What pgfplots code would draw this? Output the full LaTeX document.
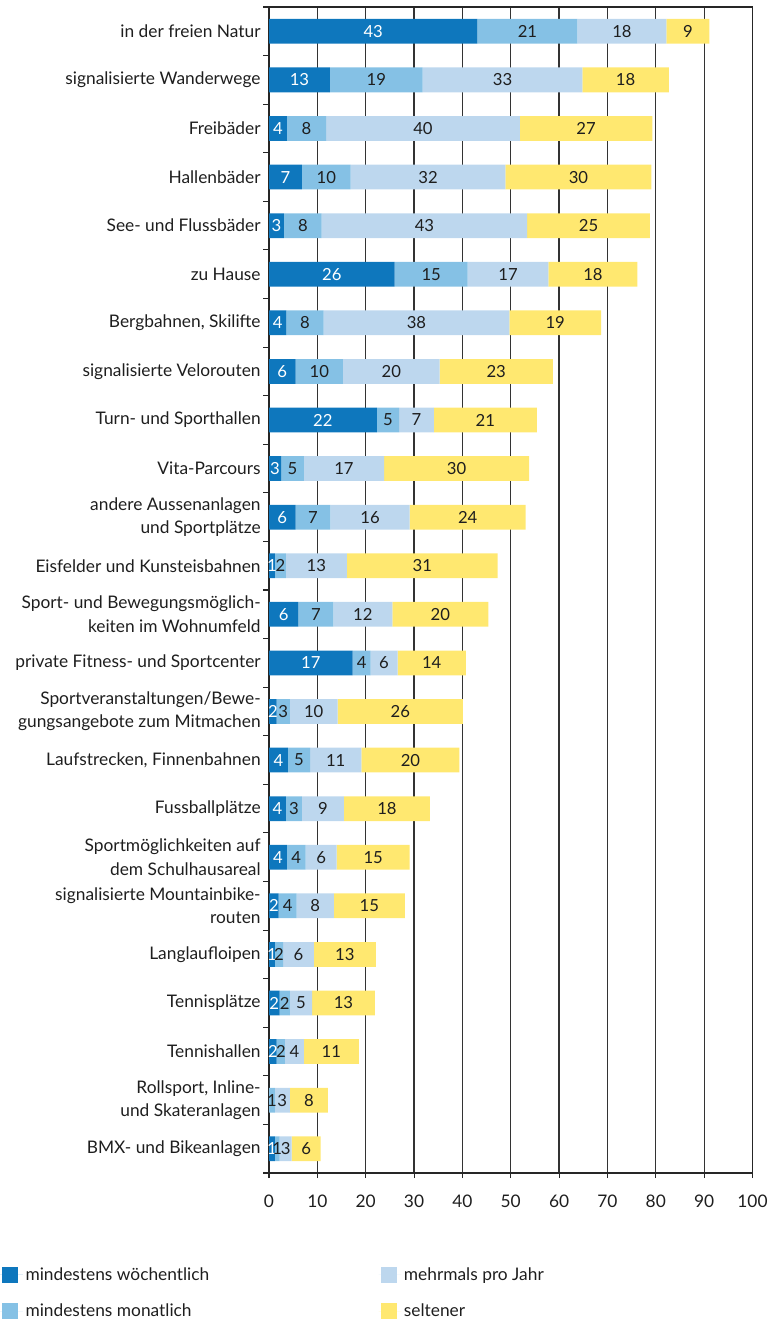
\documentclass[border=0pt]{standalone}
\usepackage{pgfplots}
\pgfplotsset{compat=1.18}
\usepackage{pgfplotstable}
\usepackage{fontspec}
\setmainfont{Lato}
\definecolor{cW}{HTML}{0E77BD}
\definecolor{cM}{HTML}{85C1E5}
\definecolor{cY}{HTML}{BDD7EE}
\definecolor{cS}{HTML}{FFE870}
\definecolor{txt}{HTML}{1E1E1E}

% i: category index; W,M,Y,S: shares (%); lW..lS: printed labels
\pgfplotstableread{
i  W    M    Y    S    lW lM lY lS
0  43.1 20.7 18.4 8.9  43 21 18 9
1  12.6 19.2 33.0 17.9 13 19 33 18
2  3.7  8.1  40.1 27.4 4  8  40 27
3  6.8  10.1 32.0 30.2 7  10 32 30
4  3.1  7.8  42.5 25.4 3  8  43 25
5  26.0 15.1 16.7 18.4 26 15 17 18
6  3.6  7.7  38.4 19.0 4  8  38 19
7  5.5  9.8  20.0 23.4 6  10 20 23
8  22.3 4.6  7.2  21.3 22 5  7  21
9  2.5  4.7  16.6 30.0 3  5  17 30
10 5.5  7.2  16.4 24.0 6  7  16 24
11 1.2  2.3  12.6 31.2 1  2  13 31
12 6.1  7.2  12.2 19.9 6  7  12 20
13 17.3 3.7  5.6  14.1 17 4  6  14
14 1.6  2.7  9.9  25.9 2  3  10 26
15 3.9  4.6  10.6 20.3 4  5  11 20
16 3.5  3.3  8.7  17.8 4  3  9  18
17 3.7  3.9  6.4  15.1 4  4  6  15
18 2.0  3.7  7.7  14.7 2  4  8  15
19 1.2  1.7  6.4  12.8 1  2  6  13
20 2.2  2.1  4.6  13.0 2  2  5  13
21 1.6  1.7  3.9  11.4 2  2  4  11
22 0    1.2  3.1  7.9  0  1  3  8
23 1.2  1.0  2.5  6.0  1  1  3  6
}\data

\pgfplotsset{
  /pgf/number format/assume math mode=true,
  common/.style={
    at={(201.75pt,-5.25pt)}, anchor=north west,
    scale only axis,
    width=362.6pt, height=874.5pt,
    font=\fontsize{13}{17.5}\selectfont,
    xmin=0, xmax=100,
    ymin=-0.5, ymax=23.5,
    y dir=reverse,
  },
}

\begin{document}
\begin{tikzpicture}
\useasboundingbox (0,0) rectangle (582pt,-989.25pt);
\begin{axis}[
  common,
  xbar stacked,
  bar width=0.51,
  xtick={0,10,...,100},
  ytick={0,...,23},
  minor ytick={-0.5,0.5,...,23.5},
  yticklabels={
    in der freien Natur,
    signalisierte Wanderwege,
    Freibäder,
    Hallenbäder,
    See- und Flussbäder,
    zu Hause,
    {Bergbahnen, Skilifte},
    signalisierte Velorouten,
    Turn- und Sporthallen,
    Vita-Parcours,
    {andere Aussenanlagen\\und Sportplätze},
    Eisfelder und Kunsteisbahnen,
    {Sport- und Bewegungsmöglich-\\keiten im Wohnumfeld},
    private Fitness- und Sportcenter,
    {Sportveranstaltungen/Bewe-\\gungsangebote zum Mitmachen},
    {Laufstrecken, Finnenbahnen},
    Fussballplätze,
    {Sportmöglichkeiten auf\\dem Schulhausareal},
    {signalisierte Mountainbike-\\routen},
    Langlaufloipen,
    Tennisplätze,
    Tennishallen,
    {Rollsport, Inline-\\und Skateranlagen},
    BMX- und Bikeanlagen},
  yticklabel style={align=right, text=txt, xshift=1pt},
  xticklabel style={text=txt, yshift=-9pt},
  xtick pos=bottom, ytick pos=left,
  tick align=outside,
  major tick length=3.75pt,
  minor tick length=4.5pt,
  every major y tick/.append style={draw=none},
  every tick/.append style={black!85, line width=0.8pt},
  xmajorgrids,
  major grid style={black!80, line width=0.9pt},
  axis line style={black!85, line width=0.8pt},
  legend image code/.code={\path (0pt,0pt) -- (17pt,0pt); \draw[#1,draw=none] (1.5pt,-6pt) rectangle (13.5pt,6pt);},
  legend columns=2, transpose legend,
  legend cell align=left,
  legend style={draw=none, fill=none, at={(-0.556,-0.0785)}, anchor=north west,
    inner sep=0pt, outer sep=0pt, row sep=12.5pt, text=txt,
    /tikz/every even column/.append style={column sep=125pt}},
]
\addplot[fill=cW, draw=none] table[x=W, y=i] {\data};
\addplot[fill=cM, draw=none] table[x=M, y=i] {\data};
\addplot[fill=cY, draw=none] table[x=Y, y=i] {\data};
\addplot[fill=cS, draw=none] table[x=S, y=i] {\data};
\legend{mindestens wöchentlich, mindestens monatlich, mehrmals pro Jahr, seltener}
\end{axis}
% labels: centred in each segment
\begin{axis}[
  common,
  hide axis, clip=false,
  point meta=explicit,
  nodes near coords={\pgfmathfloatifflags{\pgfplotspointmeta}{0}{}{\pgfmathprintnumber{\pgfplotspointmeta}}},
  every node near coord/.append style={anchor=center, text=txt, inner sep=0pt,
    font=\fontsize{12.5}{14}\selectfont},
]
\addplot[draw=none, mark=none, every node near coord/.append style={text=white}]
  table[x expr=\thisrow{W}/2, y=i, meta=lW] {\data};
\addplot[draw=none, mark=none]
  table[x expr=\thisrow{W}+\thisrow{M}/2, y=i, meta=lM] {\data};
\addplot[draw=none, mark=none]
  table[x expr=\thisrow{W}+\thisrow{M}+\thisrow{Y}/2, y=i, meta=lY] {\data};
\addplot[draw=none, mark=none]
  table[x expr=\thisrow{W}+\thisrow{M}+\thisrow{Y}+\thisrow{S}/2, y=i, meta=lS] {\data};
\end{axis}
\end{tikzpicture}
\end{document}
